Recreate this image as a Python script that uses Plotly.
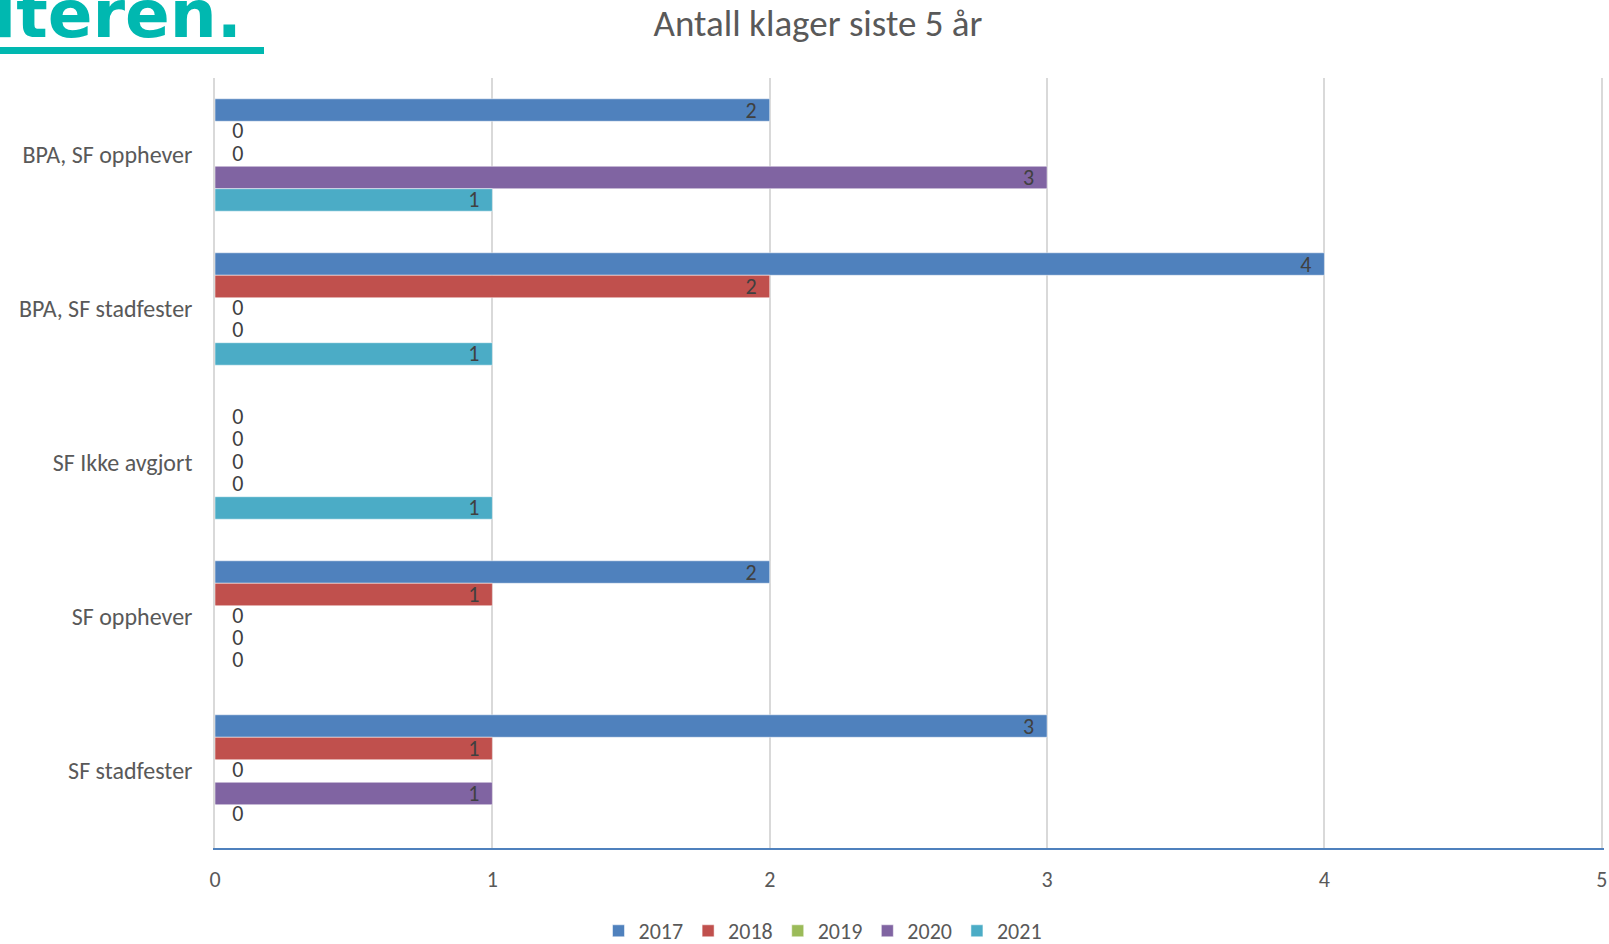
import plotly.graph_objects as go

categories = ["BPA, SF opphever", "BPA, SF stadfester", "SF Ikke avgjort", "SF opphever", "SF stadfester"]
years = ["2017", "2018", "2019", "2020", "2021"]
v2017 = [2, 4, 0, 2, 3]
v2018 = [0, 2, 0, 1, 1]
v2019 = [0, 0, 0, 0, 0]
v2020 = [3, 0, 0, 0, 1]
v2021 = [1, 1, 1, 0, 0]
series = [v2017, v2018, v2019, v2020, v2021]
colors = ["#4F81BD", "#C0504D", "#9BBB59", "#8064A2", "#4BACC6"]

FONT = "Carlito, Lato, sans-serif"
W, H = 1609, 944
ML, MR, MT, MB = 215, 5, 78, 96
PW, PH = W - ML - MR, H - MT - MB

def px_x(p):
    return (p - ML) / PW

def px_y(p):
    return (H - MB - p) / PH

fig = go.Figure()
for name, vals, col in zip(years, series, colors):
    fig.add_trace(go.Bar(
        y=categories, x=vals, name=name, orientation="h",
        marker=dict(color=col, line=dict(color="rgba(255,255,255,0.5)", width=1)),
        text=[(str(v) + "\u00a0\u00a0") if v else "" for v in vals], textposition="inside",
        insidetextanchor="end", textangle=0,
        textfont=dict(family=FONT, size=22, color="#404040"),
        insidetextfont=dict(family=FONT, size=22, color="#404040"),
        cliponaxis=False, legendgroup=name,
    ))

# zero-value labels (bars of zero length carry no text in plotly)
for name, vals in zip(years, series):
    fig.add_trace(go.Scatter(
        y=categories, x=[0 if v == 0 else None for v in vals],
        text=["0" if v == 0 else "" for v in vals],
        mode="markers+text", textposition="middle right", orientation="h",
        marker=dict(size=26, color="rgba(0,0,0,0)"),
        textfont=dict(family=FONT, size=22, color="#404040"),
        showlegend=False, hoverinfo="skip", cliponaxis=False, legendgroup=name,
    ))

fig.update_layout(
    width=W, height=H,
    margin=dict(l=ML, r=MR, t=MT, b=MB, autoexpand=False),
    paper_bgcolor="white", plot_bgcolor="white",
    barmode="group", bargap=0.27, bargroupgap=0,
    scattermode="group", scattergap=0.27,
    uniformtext=dict(minsize=22, mode="show"),
    font=dict(family=FONT, color="#595959", size=22),
    title=dict(text="Antall klager siste 5 år", x=818 / W, xref="container", xanchor="center",
               y=1 - 23 / H, yref="container", yanchor="middle",
               font=dict(family=FONT, size=37, color="#595959")),
    legend=dict(orientation="h", x=823 / W, xref="container", xanchor="center",
                y=1 - 931 / H, yref="container", yanchor="middle",
                font=dict(family=FONT, size=22, color="#595959"), traceorder="normal",
                itemwidth=30, tracegroupgap=0),
    showlegend=True,
)
fig.update_xaxes(range=[0, 5.008], tickvals=[0, 1, 2, 3, 4, 5], showgrid=True, gridcolor="#D9D9D9", gridwidth=1.5,
                 zeroline=False, showline=True, linecolor="#4F81BD", linewidth=2,
                 ticks="", ticklabelstandoff=11, ticklabeloverflow="allow",
                 tickfont=dict(family=FONT, size=22, color="#595959"))
fig.update_yaxes(autorange="reversed", showgrid=False, zeroline=False, showline=True,
                 linecolor="#D9D9D9", linewidth=1.5, ticks="", ticklabelstandoff=16,
                 tickfont=dict(family=FONT, size=24, color="#595959"))

# cropped header text at top-left
fig.add_annotation(text="<b>Statsforvalteren.</b>", xref="paper", yref="paper",
                   x=px_x(244), y=px_y(55), xanchor="right", yanchor="bottom",
                   showarrow=False, font=dict(family="DejaVu Sans, sans-serif", size=66, color="#00B8B0"))
fig.add_shape(type="rect", xref="paper", yref="paper",
              x0=px_x(-20), x1=px_x(264), y0=px_y(54), y1=px_y(47),
              fillcolor="#00B8B0", line=dict(width=0), layer="above")

fig.write_html("out.html")
